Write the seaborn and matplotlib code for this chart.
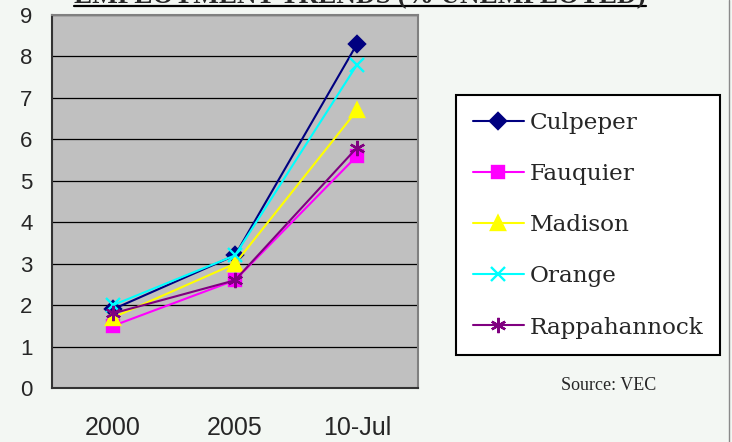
import pandas as pd
import matplotlib.pyplot as plt
from matplotlib.lines import Line2D
import seaborn as sns

# Data
years = ['2000', '2005', '10-Jul']
counties = ['Culpeper', 'Fauquier', 'Madison', 'Orange', 'Rappahannock']
culpeper = [1.9, 3.2, 8.3]
fauquier = [1.5, 2.6, 5.6]
madison = [1.7, 3.0, 6.7]
orange = [2.0, 3.2, 7.8]
rappahannock = [1.8, 2.6, 5.8]

colors = ['#000080', '#FF00FF', '#FFFF00', '#00FFFF', '#800080']
marker_styles = ['D', 's', '^', 'x', (6, 2, 0)]
marker_sizes = [8, 8.5, 10, 10, 11]

# Long-form table for seaborn
series = [culpeper, fauquier, madison, orange, rappahannock]
rows = []
for name, vals in zip(counties, series):
    for i, v in enumerate(vals):
        rows.append({'pos': i, 'rate': v, 'county': name})
df = pd.DataFrame(rows)

sns.set_style('white')
plt.rcParams['font.family'] = ['Liberation Sans', 'DejaVu Sans']

fig = plt.figure(figsize=(7.32, 4.42), dpi=100, facecolor='#F3F7F3')
ax = fig.add_axes([52 / 732, 1 - 388 / 442, (418 - 52) / 732, (388 - 15) / 442])
ax.set_facecolor('#C0C0C0')

sns.lineplot(data=df, x='pos', y='rate', hue='county',
             hue_order=counties, palette=dict(zip(counties, colors)),
             linewidth=1.5, legend=False, ax=ax)

# Excel-style markers (mixing filled and line markers is done per line)
lines = ax.get_lines()[:len(counties)]
for ln, mk, ms in zip(lines, marker_styles, marker_sizes):
    ln.set_marker(mk)
    ln.set_markeredgecolor(ln.get_color())
    ln.set_markerfacecolor(ln.get_color())
    ln.set_markeredgewidth(1.7)
    ln.set_markersize(ms)

# Axes
ax.set_xlim(-0.5, 2.5)
ax.set_ylim(0, 9)
ax.set_yticks(range(0, 10))
ax.set_xticks(range(len(years)))
ax.set_xticklabels(years)
ax.set_xticks([-0.5, 0.5, 1.5, 2.5], minor=True)
ax.tick_params(axis='x', which='major', length=0, pad=20, labelsize=18)
ax.tick_params(axis='x', which='minor', length=7, width=1.2, direction='out', color='#333333')
ax.tick_params(axis='y', length=7, width=1.2, direction='out', color='#333333', pad=7, labelsize=16)
ax.set_xlabel('')
ax.set_ylabel('')
ax.yaxis.grid(True, color='#000000', linewidth=0.9)
ax.set_axisbelow(True)
for side in ['left', 'bottom']:
    ax.spines[side].set_color('#333333')
    ax.spines[side].set_linewidth(1.5)
for side in ['top', 'right']:
    ax.spines[side].set_color('#808080')
    ax.spines[side].set_linewidth(1.5)

# Legend
leg = fig.legend(handles=lines, labels=counties, loc='upper left',
                 bbox_to_anchor=(456 / 732, 1 - 95 / 442), borderaxespad=0,
                 prop={'family': 'DejaVu Serif', 'size': 16.7},
                 frameon=True, fancybox=False, edgecolor='#000000',
                 facecolor='#FFFFFF', framealpha=1, handlelength=2.2,
                 handletextpad=0.25, labelspacing=1.26, borderpad=0.72)
leg.get_frame().set_linewidth(1.5)

# Source note
fig.text(609 / 732, 1 - 386 / 442, 'Source: VEC', ha='center', va='center',
         family='Liberation Serif', fontsize=13)

# Title (mostly cut off at the top, as in the original) with underline
title = fig.text(360 / 732, 1 - 3.5 / 442, 'EMPLOYMENT TRENDS (% UNEMPLOYED)',
                 ha='center', va='baseline', family='Liberation Serif',
                 fontweight='bold', fontsize=19.5)
fig.canvas.draw()
bb = title.get_window_extent().transformed(fig.transFigure.inverted())
fig.add_artist(Line2D([bb.x0, bb.x1], [1 - 5.5 / 442] * 2, color='black',
                      linewidth=1.6, transform=fig.transFigure))

# Thin frame line on the right edge
fig.add_artist(Line2D([729 / 732] * 2, [0, 1], color='#8A8A8A', linewidth=1,
                      transform=fig.transFigure))

fig.savefig('out.png', dpi=100, facecolor=fig.get_facecolor())
plt.close(fig)
